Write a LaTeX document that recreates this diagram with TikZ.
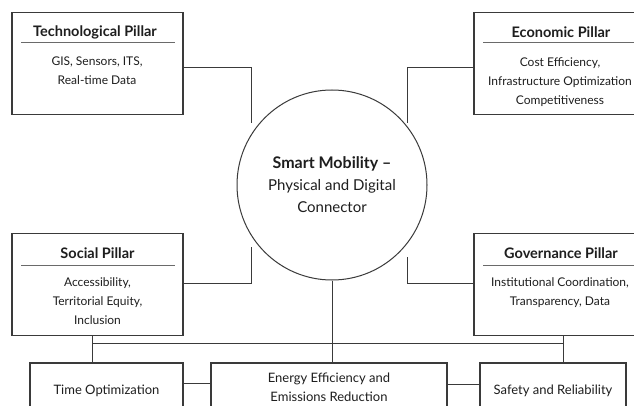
\documentclass[tikz,border=0pt]{standalone}
\usepackage{fontspec}
\setmainfont{Lato}
\usetikzlibrary{calc,positioning}
\definecolor{linegray}{HTML}{3A3A3A}
\definecolor{rulegray}{HTML}{6A6A6A}
\definecolor{textgray}{HTML}{1E1E1E}

\begin{document}
\begin{tikzpicture}[x=1pt,y=-1pt,
  pillar/.style={draw=linegray,line width=1.1pt,minimum width=171pt,minimum height=102pt,inner sep=0pt},
  ptitle/.style={text=textgray,font=\fontsize{14.5}{16}\selectfont\bfseries,inner sep=0pt},
  pbody/.style={text=textgray,font=\fontsize{12}{19}\selectfont,align=center,inner sep=0pt,anchor=north},
  prule/.style={draw=rulegray,line width=0.9pt},
  subbox/.style={draw=linegray,line width=1.1pt,minimum height=56pt,inner sep=0pt,text=textgray,font=\fontsize{13}{19}\selectfont,align=center},
  link/.style={draw=linegray,line width=0.8pt}]
\useasboundingbox (0,0) rectangle (634,406);
\clip (0,0) rectangle (634,406);
\fill[white] (0,0) rectangle (634,406);

% central hub
\node[circle,draw=linegray,line width=1pt,minimum size=190pt,inner sep=0pt,text=textgray,align=center,
  font=\fontsize{15}{22}\selectfont] (hub) at (332,185)
  {{\fontsize{16}{22}\selectfont\bfseries Smart Mobility --}\\Physical and Digital\\Connector};

% pillars
\node[pillar] (tech) at (97.5,63.5) {};
\node[ptitle] (techt) at (95,32) {Technological Pillar};
\draw[prule] ($(tech.north west)+(10,31)$) -- ($(tech.north east)+(-9,31)$);
\node[pbody] (techb) at (97,57) {GIS, Sensors, ITS,\\Real-time Data};

\node[pillar] (econ) at (559.5,63.5) {};
\node[ptitle] (econt) at (561,32) {Economic Pillar};
\draw[prule] ($(econ.north west)+(10,31)$) -- ($(econ.north east)+(-9,31)$);
\node[pbody] (econb) at (560,57) {Cost Efficiency,\\Infrastructure Optimization\\Competitiveness};

\node[pillar] (social) at (97.5,284.5) {};
\node[ptitle] (socialt) at (97.5,253) {Social Pillar};
\draw[prule] ($(social.north west)+(10,32)$) -- ($(social.north east)+(-9,32)$);
\node[pbody] (socialb) at (97.5,277) {Accessibility,\\Territorial Equity,\\Inclusion};

\node[pillar] (gov) at (559.5,284.5) {};
\node[ptitle] (govt) at (561,253) {Governance Pillar};
\draw[prule] ($(gov.north west)+(10,32)$) -- ($(gov.north east)+(-9,32)$);
\node[pbody] (govb) at (560,277) {Institutional Coordination,\\Transparency, Data};

% outcomes
\node[subbox,minimum width=153pt] (time) at (106.5,391) {Time Optimization};
\node[subbox,minimum width=236pt,minimum height=48pt] (energy) at (329,387) {Energy Efficiency and\\Emissions Reduction};
\node[subbox,minimum width=146pt] (safety) at (553,391) {Safety and Reliability};

% connectors
\coordinate (tl) at (251,123);
\coordinate (tr) at (407,123);
\coordinate (ml) at (251,247);
\coordinate (mr) at (407,257);
\draw[link] ([yshift=-4pt]tech.east) -| (tl);
\draw[link] ([yshift=-4pt]econ.west) -| (tr);
\draw[link] ([yshift=1.5pt]social.east) -| (ml);
\draw[link] ([yshift=1.5pt]gov.west) -| (mr);

\coordinate (busl) at (92,343);
\coordinate (busr) at (563,343);
\draw[link] (busl) -- (busr);
\draw[link] (social.south -| busl) -- (time.north -| busl);
\draw[link] (gov.south -| busr) -- (safety.north -| busr);
\draw[link] (hub.south) -- (hub.south |- energy.north);
\draw[link] ([yshift=8pt]time.east) -- ([yshift=8pt]time.east -| energy.west);
\draw[link] ([yshift=3pt]energy.east) -- ([yshift=3pt]energy.east -| safety.west);
\end{tikzpicture}
\end{document}
